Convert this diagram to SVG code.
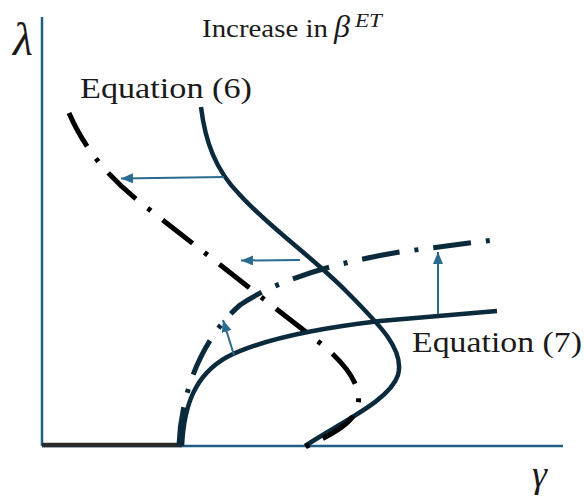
<svg xmlns="http://www.w3.org/2000/svg" width="584" height="504" viewBox="0 0 584 504">
<style>
.axis{stroke:#1f5f86;stroke-width:2.5;fill:none}
.solid{stroke:#0b2a3c;stroke-width:4.5;fill:none}
.dd{stroke-width:5;fill:none;stroke-dasharray:38 15 4 15}
.arrow{stroke:#2a6b8f;stroke-width:2;fill:none;marker-end:url(#ah)}
.lbl{font-family:"Liberation Serif","Times New Roman",serif;fill:#1a1a1a}
.it{font-style:italic}
</style>
<defs>
<marker id="ah" markerUnits="userSpaceOnUse" markerWidth="12" markerHeight="10" refX="12" refY="5" orient="auto">
<path d="M0,0 L12,5 L0,10 z" fill="#2a6b8f"/>
</marker>
</defs>
<rect width="584" height="504" fill="#ffffff"/>
<g id="axes">
<line class="axis" x1="42" y1="17" x2="42" y2="446"/>
<line class="axis" x1="42" y1="446" x2="563" y2="446"/>
<line x1="42" y1="445" x2="182" y2="445" stroke="#2a2a2a" stroke-width="4.5"/>
</g>
<g id="equation6">
<path class="solid" d="M201,107 C205,140 215,170 240,195 C270,228 310,255 345,290 C380,325 405,350 398,375 C390,400 345,420 305,446"/>
</g>
<g id="equation6-shifted">
<path class="dd" stroke="#000000" stroke-dasharray="4 15 38 15" d="M69,113 C85,150 110,180 150,210 L320,343 C345,363 362,385 358,405 C354,425 330,435 305,447"/>
</g>
<g id="equation7">
<path class="solid" d="M182,446 C184,405 195,375 227,357 C260,340 320,328 380,321 L497,311"/>
</g>
<g id="equation7-shifted">
<path class="dd" stroke="#0b2a3c" d="M179,445 C181,395 200,340 240,305 C280,278 340,262 400,252 L493,240"/>
</g>
<g id="connectors">
<line class="arrow" x1="224" y1="177" x2="121" y2="178.5"/>
<line class="arrow" x1="300" y1="260" x2="241" y2="260.5"/>
<line class="arrow" x1="438" y1="314" x2="438" y2="252"/>
<line class="arrow" x1="234" y1="355" x2="223" y2="320"/>
</g>
<g id="labels">
<text class="lbl" x="202" y="37" font-size="26" textLength="126" lengthAdjust="spacingAndGlyphs">Increase in</text>
<text class="lbl it" x="334" y="37" font-size="32">β</text>
<text class="lbl it" x="355" y="27" font-size="19" textLength="27" lengthAdjust="spacingAndGlyphs">ET</text>
<text class="lbl" x="80" y="98" font-size="30" textLength="172" lengthAdjust="spacingAndGlyphs">Equation (6)</text>
<text class="lbl" x="412" y="352" font-size="30" textLength="170" lengthAdjust="spacingAndGlyphs">Equation (7)</text>
<text class="lbl it" x="13" y="55" font-size="46">λ</text>
<text class="lbl it" x="532" y="487" font-size="38">γ</text>
</g>
</svg>
